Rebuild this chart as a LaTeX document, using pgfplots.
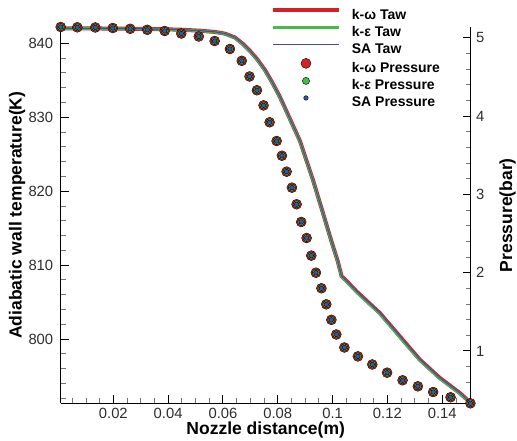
\documentclass[border=0pt]{standalone}
\usepackage{fontspec}
\setmainfont{Liberation Sans}
\usepackage{pgfplots}
\usepackage{pgfplotstable}
\pgfplotsset{compat=1.18}
\definecolor{cred}{RGB}{212,32,38}
\definecolor{cgreen}{RGB}{72,186,72}
\definecolor{cblue}{RGB}{64,82,168}
\definecolor{tickc}{RGB}{45,45,45}

\pgfplotstableread{
x p
0.0008 5.138
0.00686 5.134
0.01342 5.132
0.01981 5.125
0.02615 5.115
0.03239 5.102
0.03874 5.087
0.04479 5.055
0.05117 5.017
0.05697 4.959
0.06255 4.857
0.06686 4.706
0.06970 4.506
0.07240 4.330
0.07481 4.137
0.07703 3.921
0.07959 3.682
0.08152 3.494
0.08323 3.290
0.08517 3.086
0.08688 2.874
0.08856 2.648
0.09053 2.443
0.09224 2.218
0.09392 2.000
0.09593 1.801
0.09771 1.596
0.09957 1.398
0.10136 1.211
0.10431 1.045
0.10924 0.931
0.11449 0.828
0.11989 0.723
0.12554 0.626
0.13112 0.549
0.13670 0.476
0.14305 0.409
0.15030 0.332
}\pressure

\pgfplotstableread{
x kw ke sa
0.0008 842.01 842.00 842.02
0.01514 842.00 841.99 842.01
0.03337 841.93 841.92 841.94
0.04432 841.84 841.82 841.85
0.05161 841.70 841.68 841.71
0.05708 841.53 841.50 841.54
0.06073 841.30 841.27 841.31
0.06438 840.78 840.74 840.80
0.06729 839.91 839.86 839.93
0.06985 838.96 838.90 838.98
0.07240 837.88 837.82 837.90
0.07532 836.39 836.33 836.41
0.07787 834.77 834.71 834.79
0.08079 832.74 832.68 832.76
0.08444 829.77 829.71 829.79
0.08808 826.80 826.74 826.82
0.09283 821.53 821.47 821.55
0.09647 817.07 817.01 817.09
0.09976 813.01 812.95 813.03
0.10195 810.45 810.38 810.47
0.10329 808.49 808.40 808.51
0.10486 807.95 807.85 807.97
0.10877 806.43 806.31 806.45
0.11726 803.51 803.38 803.53
0.12456 800.35 800.22 800.37
0.13186 797.20 797.08 797.22
0.13915 794.73 794.62 794.75
0.14644 792.70 792.62 792.72
0.15030 791.39 791.35 791.40
}\taw

\tikzset{lab/.style={font=\bfseries\fontsize{17.5}{20}\selectfont}}
\pgfplotsset{
  lineleg/.style={legend image code/.code={\draw[##1] (0pt,4.5pt) -- (66pt,4.5pt);}},
  markleg/.style={legend image code/.code={\path[draw=none,fill=none] (0pt,4.5pt) -- (66pt,4.5pt); \path[##1,draw=none] plot[only marks] coordinates {(33pt,4.5pt)};}},
  common/.style={
    scale only axis, width=410pt, height=376.3pt,
    xmin=0.0008, xmax=0.1504,
    tick align=inside,
    major tick length=8pt, minor tick length=5pt,
    major tick style={black, line width=1pt},
    minor tick style={black!55, line width=0.8pt},
    axis line style={black, line width=1.2pt},
    scaled x ticks=false, scaled y ticks=false,
    /pgf/number format/assume math mode=true,
    tick label style={font=\fontsize{14.8}{16}\selectfont, text=tickc},
  },
}

\begin{document}
\begin{tikzpicture}
\begin{axis}[common,
  axis x line*=bottom, axis y line*=left,
  ymin=791.31, ymax=842.2,
  xtick={0.02,0.04,0.06,0.08,0.1,0.12,0.14},
  xticklabels={0.02,0.04,0.06,0.08,0.1,0.12,0.14},
  minor xtick={0.005,0.01,0.015,0.025,0.03,0.035,0.045,0.05,0.055,0.065,0.07,0.075,0.085,0.09,0.095,0.105,0.11,0.115,0.125,0.13,0.135,0.145,0.15},
  ytick={800,810,820,830,840},
  minor ytick={792,794,796,798,802,804,806,808,812,814,816,818,822,824,826,828,832,834,836,838,842},
  xticklabel style={anchor=north, inner sep=0pt, text depth=0pt, yshift=-5pt},
  yticklabel style={anchor=east, inner sep=0pt, xshift=-7.3pt},
  xlabel={Nozzle distance(m)},
  ylabel={Adiabatic wall temperature(K)},
  every axis x label/.style={at={(rel axis cs:0.5,0)}, anchor=base, yshift=-31pt, inner sep=0pt, lab},
  every axis y label/.style={at={(rel axis cs:0,0.5)}, xshift=-39pt, rotate=90, anchor=base, lab},
]
\addplot[cred, line width=4pt] table[x=x, y=kw] {\taw};
\addplot[cgreen, line width=2.6pt] table[x=x, y=ke] {\taw};
\addplot[cblue, line width=1.2pt] table[x=x, y=sa] {\taw};
\end{axis}

\begin{axis}[common,
  axis x line=none, axis y line*=right,
  ymin=0.332, ymax=5.138,
  ytick={1,2,3,4,5},
  minor ytick={0.4,0.6,0.8,1.2,1.4,1.6,1.8,2.2,2.4,2.6,2.8,3.2,3.4,3.6,3.8,4.2,4.4,4.6,4.8},
  yticklabel style={anchor=west, inner sep=0pt, xshift=5.3pt},
  ylabel={Pressure(bar)},
  every axis y label/.style={at={(rel axis cs:1,0.5)}, xshift=41.5pt, rotate=90, anchor=base, lab},
  legend cell align=left,
  legend style={at={(rel axis cs:0.5129,1.0531)}, anchor=north west, draw=none, fill=none,
    inner sep=0pt, outer sep=0pt, row sep=1.6pt, column sep=8.9pt,
    font=\bfseries\fontsize{14}{16}\selectfont},
]
\addlegendimage{lineleg, cred, line width=4pt}
\addlegendentry{k-ω Taw}
\addlegendimage{lineleg, cgreen, line width=2.6pt}
\addlegendentry{k-ε Taw}
\addlegendimage{lineleg, cblue, line width=1.2pt}
\addlegendentry{SA Taw}
\addplot[markleg, only marks, mark=*, mark size=5pt, mark options={draw=none, fill=cred}] table[x=x, y=p] {\pressure};
\addlegendentry{k-ω Pressure}
\addplot[markleg, only marks, mark=*, mark size=3.6pt, mark options={draw=none, fill=cgreen}] table[x=x, y=p] {\pressure};
\addlegendentry{k-ε Pressure}
\addplot[markleg, only marks, mark=*, mark size=2.3pt, mark options={draw=none, fill=cblue}] table[x=x, y=p] {\pressure};
\addlegendentry{SA Pressure}
\end{axis}
\pgfresetboundingbox
\path[use as bounding box] (-60.7pt,-36.7pt) rectangle (456.3pt,403.3pt);
\end{tikzpicture}
\end{document}
